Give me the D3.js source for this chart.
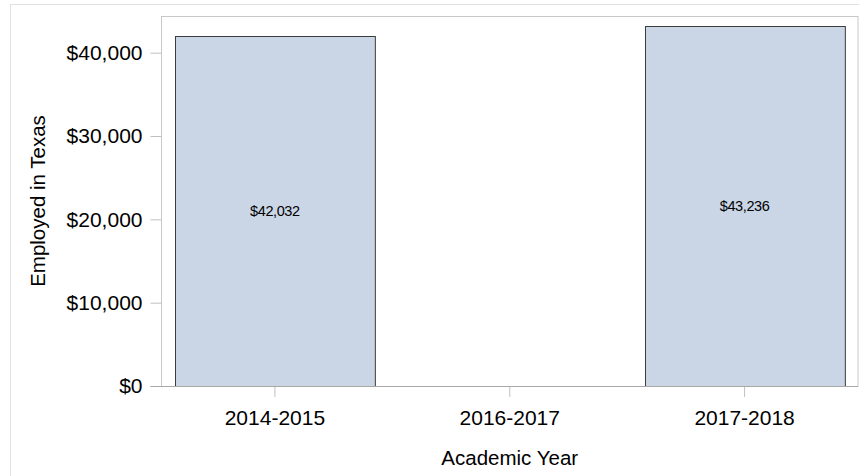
<!DOCTYPE html>
<html>
<head>
<meta charset="utf-8">
<script src="https://cdn.jsdelivr.net/npm/d3@7"></script>
<style>
  body { margin: 0; background: #fff; }
  text { font-family: "Liberation Sans", Arial, sans-serif; fill: #000; }
</style>
</head>
<body>
<div id="chart"></div>
<script>
// Chart data
var years = ["2014-2015", "2016-2017", "2017-2018"];
var salaries = [42032, null, 43236];
var yTicks = [0, 10000, 20000, 30000, 40000];

var width = 859, height = 476;
var plotLeft = 161.5, plotRight = 858, plotTop = 16, plotBottom = 386;

var svg = d3.select("#chart").append("svg")
    .attr("width", width)
    .attr("height", height);

// Outer frame
svg.append("rect")
    .attr("x", 10.5).attr("y", 4.5)
    .attr("width", 860).attr("height", 480)
    .attr("fill", "none")
    .attr("stroke", "#e2e2e2");

var x = d3.scaleBand()
    .domain(years)
    .range([plotLeft, plotRight])
    .paddingInner(0.149)
    .paddingOuter(0.0574);

var y = d3.scaleLinear()
    .domain([0, 44400])
    .range([plotBottom, plotTop]);

// Plot frame
svg.append("rect")
    .attr("x", plotLeft).attr("y", plotTop + 0.5)
    .attr("width", plotRight - plotLeft).attr("height", plotBottom - plotTop)
    .attr("fill", "none")
    .attr("stroke", "#c8c8c8");

// Bars
var data = years.map(function(d, i) { return { year: d, value: salaries[i] }; })
    .filter(function(d) { return d.value != null; });

svg.selectAll("rect.bar")
    .data(data)
    .enter()
    .append("rect")
    .attr("class", "bar")
    .attr("x", function(d) { return Math.round(x(d.year)) + 0.5; })
    .attr("y", function(d) { return Math.round(y(d.value)) + 0.5; })
    .attr("width", x.bandwidth())
    .attr("height", function(d) { return plotBottom - Math.round(y(d.value)); })
    .attr("fill", "#cad5e5")
    .attr("stroke", "#3c3c3c")
    .attr("stroke-width", 1);

svg.selectAll("text.barlabel")
    .data(data)
    .enter()
    .append("text")
    .attr("class", "barlabel")
    .attr("x", function(d) { return x(d.year) + x.bandwidth() / 2; })
    .attr("y", function(d) { return (y(d.value) + plotBottom) / 2; })
    .attr("dy", "0.35em")
    .attr("text-anchor", "middle")
    .attr("font-size", "14.5px")
    .attr("letter-spacing", "-0.4px")
    .text(function(d) { return d3.format("$,")(d.value); });

// Y axis
var yAxis = d3.axisLeft(y)
    .tickValues(yTicks)
    .tickSize(11)
    .tickPadding(8)
    .tickFormat(d3.format("$,"));

var gy = svg.append("g")
    .attr("transform", "translate(" + plotLeft + ",0)")
    .call(yAxis);
gy.select(".domain").remove();
gy.selectAll("line").attr("stroke", "#c0c0c0");
gy.selectAll("text").attr("font-size", "21px").attr("font-family", "Liberation Sans, Arial, sans-serif");

// X axis
var xAxis = d3.axisBottom(x)
    .tickSize(11)
    .tickPadding(13);

var gx = svg.append("g")
    .attr("transform", "translate(0," + plotBottom + ")")
    .call(xAxis);
gx.select(".domain").remove();
gx.selectAll("line").attr("stroke", "#c0c0c0");
gx.selectAll("text").attr("font-size", "21px").attr("font-family", "Liberation Sans, Arial, sans-serif");

svg.append("line")
    .attr("x1", plotLeft - 11).attr("x2", plotRight)
    .attr("y1", plotBottom + 0.5).attr("y2", plotBottom + 0.5)
    .attr("stroke", "#a8a8a8");

// Axis titles
svg.append("text")
    .attr("x", (plotLeft + plotRight) / 2)
    .attr("y", 458)
    .attr("dy", "0.35em")
    .attr("text-anchor", "middle")
    .attr("font-size", "20.5px")
    .text("Academic Year");

svg.append("text")
    .attr("transform", "translate(38," + (plotTop + plotBottom) / 2 + ") rotate(-90)")
    .attr("dy", "0.35em")
    .attr("text-anchor", "middle")
    .attr("font-size", "20.5px")
    .text("Employed in Texas");
</script>
</body>
</html>
